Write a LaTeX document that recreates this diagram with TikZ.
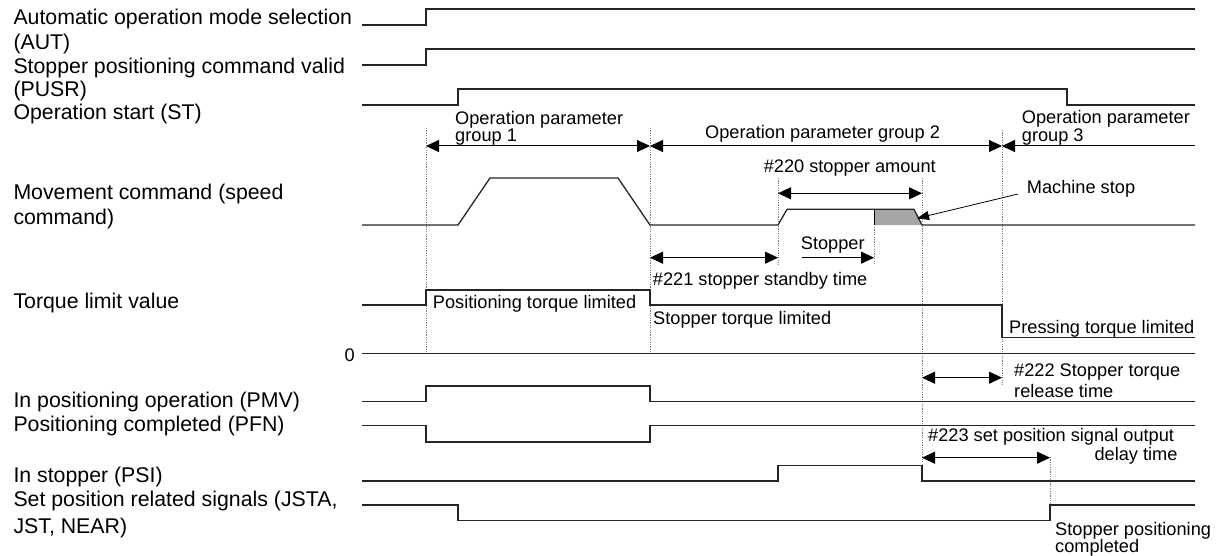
\documentclass[tikz,border=0pt]{standalone}
\usepackage{fontspec}
\setmainfont{Liberation Sans}
\usetikzlibrary{arrows.meta}
\definecolor{fillgray}{HTML}{A6A6A6}
\tikzset{
  sig/.style={line width=1.3pt, black!85, line join=miter},
  guide/.style={gray, line width=0.6pt, dash pattern=on 1.2pt off 1.2pt},
  tri/.tip={Triangle[length=13pt,width=12pt]},
  dimboth/.style={line width=1pt, tri-tri},
  dimleft/.style={line width=1pt, tri-},
  dimright/.style={line width=1pt, -tri},
  pointer/.style={line width=0.8pt, -{Triangle[length=12pt,width=9pt]}},
  lbl/.style={font=\fontsize{21.3}{24}\selectfont, anchor=base west, inner sep=0pt},
  ann/.style={font=\fontsize{18.2}{17}\selectfont, anchor=base west, inner sep=0pt},
  annr/.style={font=\fontsize{18.2}{17}\selectfont, anchor=base east, inner sep=0pt},
}
\begin{document}
\begin{tikzpicture}[x=1pt,y=-1pt]
\useasboundingbox (0,0) rectangle (1222,556);

% ---------- left labels ----------
\node[lbl] (lAUT1) at (13.3,25) {Automatic operation mode selection};
\node[lbl] (lAUT2) at (13.3,49.3) {(AUT)};
\node[lbl] (lPUSR1) at (13.3,74) {Stopper positioning command valid};
\node[lbl] (lPUSR2) at (13.3,96.7) {(PUSR)};
\node[lbl] (lST) at (13.3,120) {Operation start (ST)};
\node[lbl] (lMV1) at (13.3,200) {Movement command (speed};
\node[lbl] (lMV2) at (13.3,224.3) {command)};
\node[lbl] (lTQ) at (13.3,308.3) {Torque limit value};
\node[lbl] (lPMV) at (13.3,407.7) {In positioning operation (PMV)};
\node[lbl] (lPFN) at (13.3,431.7) {Positioning completed (PFN)};
\node[lbl] (lPSI) at (13.3,482.3) {In stopper (PSI)};
\node[lbl] (lJS1) at (13.3,506.7) {Set position related signals (JSTA,};
\node[lbl] (lJS2) at (13.3,533.3) {JST, NEAR)};
\node[annr] (zero) at (355,361) {0};

% ---------- guide lines ----------
\draw[guide] (426,128) -- (426,353.3);
\draw[guide] (650,128) -- (650,353.3);
\draw[guide] (1002,130) -- (1002,385);
\draw[guide] (922,178) -- (922,481);
\draw[guide] (778,178) -- (778,265);
\draw[guide] (874,227) -- (874,265);
\draw[guide] (1050,457) -- (1050,505);

% ---------- signals ----------
\draw[sig] (362,25) -- (426,25) -- (426,9) -- (1195,9);
\draw[sig] (362,65) -- (426,65) -- (426,49) -- (1195,49);
\draw[sig] (362,105) -- (458,105) -- (458,89) -- (1067,89) -- (1067,105) -- (1195,105);

\fill[fillgray] (874,225) -- (874,209.3) -- (914,209.3) -- (922,225) -- cycle;
\draw[line width=0.8pt] (874,209.3) -- (874,225);
\draw[sig] (362,225) -- (458,225) -- (490,178) -- (618,178) -- (650,225) -- (778,225)
  -- (787,209.3) -- (914,209.3) -- (922,225) -- (1195,225);

\draw[sig] (362,305) -- (426,305) -- (426,290) -- (650,290) -- (650,305) -- (1002,305)
  -- (1002,337.7) -- (1195,337.7);
\draw[sig] (362,353.3) -- (1195,353.3);

\draw[sig] (362,401.7) -- (426,401.7) -- (426,386) -- (650,386) -- (650,401.7) -- (1195,401.7);
\draw[sig] (362,425.7) -- (426,425.7) -- (426,442) -- (650,442) -- (650,425.7) -- (1195,425.7);
\draw[sig] (362,481) -- (778,481) -- (778,465.7) -- (922,465.7) -- (922,481) -- (1195,481);
\draw[sig] (362,505) -- (458,505) -- (458,520.7) -- (1050,520.7) -- (1050,505) -- (1195,505);

% ---------- dimension arrows ----------
\coordinate (g1a) at (426,146);
\coordinate (g1b) at (650,146);
\coordinate (g2b) at (1002,146);
\coordinate (g3b) at (1195,146);
\draw[dimboth] (g1a) -- (g1b);
\draw[dimboth] (g1b) -- (g2b);
\draw[dimleft] (g2b) -- (g3b);

\coordinate (s220a) at (778,193.3);
\coordinate (s220b) at (922,193.3);
\draw[dimboth] (s220a) -- (s220b);

\coordinate (s221a) at (650,257.7);
\coordinate (s221b) at (778,257.7);
\draw[dimboth] (s221a) -- (s221b);

\coordinate (stpa) at (801.7,257.7);
\coordinate (stpb) at (874,257.7);
\draw[dimright] (stpa) -- (stpb);

\coordinate (s222a) at (922,377.7);
\coordinate (s222b) at (1002,377.7);
\draw[dimboth] (s222a) -- (s222b);

\coordinate (s223a) at (922,457.7);
\coordinate (s223b) at (1050,457.7);
\draw[dimboth] (s223a) -- (s223b);

% ---------- annotations ----------
\node[ann] (g1t1) at (455,125) {Operation parameter};
\node[ann] (g1t2) at (455,141.7) {group 1};
\node[ann] (g2t) at (705,138.3) {Operation parameter group 2};
\node[ann] (g3t1) at (1021.7,123.3) {Operation parameter};
\node[ann] (g3t2) at (1021.7,141.7) {group 3};
\node[annr] (t220) at (936,173) {\#220 stopper amount};
\node[ann] (mstop) at (1026.7,193.3) {Machine stop};
\coordinate (mstopfrom) at (1018,194);
\coordinate (mstopto) at (917,218.3);
\draw[pointer] (mstopfrom) -- (mstopto);
\node[ann] (tstp) at (800.7,249.3) {Stopper};
\node[ann] (t221) at (652.7,285) {\#221 stopper standby time};
\node[ann] (tpos) at (432.7,308.3) {Positioning torque limited};
\node[ann] (tstq) at (653,324.3) {Stopper torque limited};
\node[ann] (tprs) at (1009,333.3) {Pressing torque limited};
\node[ann] (t222a) at (1014,376.7) {\#222 Stopper torque};
\node[ann] (t222b) at (1014,397.3) {release time};
\node[ann] (t223a) at (928,441.7) {\#223 set position signal output};
\node[annr] (t223b) at (1177.7,460) {delay time};
\node[ann] (tspc1) at (1055,535) {Stopper positioning};
\node[ann] (tspc2) at (1055,552) {completed};
\end{tikzpicture}
\end{document}
